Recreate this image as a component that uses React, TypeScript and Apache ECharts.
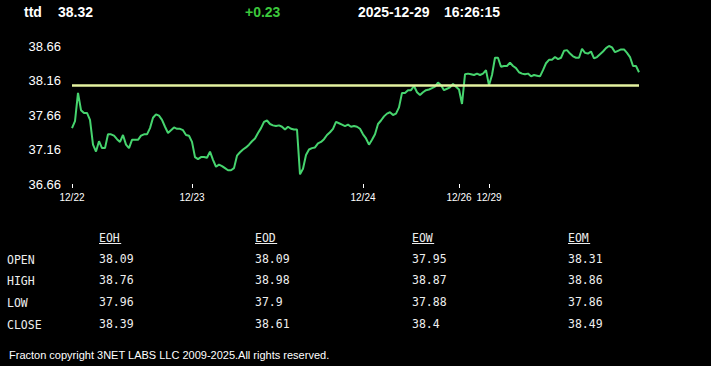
import React, { useEffect, useRef } from "react";
import * as echarts from "echarts";

// ---- data ----
const symbol = "ttd";
const lastPrice = "38.32";
const change = "+0.23";
const dateText = "2025-12-29";
const timeText = "16:26:15";

const prices = [
  37.47, 37.57, 37.98, 37.73, 37.69, 37.69, 37.59, 37.23, 37.13, 37.28,
  37.18, 37.18, 37.38, 37.38, 37.36, 37.31, 37.27, 37.37, 37.23, 37.18,
  37.30, 37.30, 37.30, 37.36, 37.38, 37.38, 37.47, 37.62, 37.67, 37.65,
  37.59, 37.49, 37.40, 37.44, 37.48, 37.46, 37.46, 37.44, 37.37, 37.36,
  37.27, 37.05, 37.02, 37.05, 37.05, 37.04, 37.13, 37.01, 36.91, 36.94,
  36.92, 36.89, 36.86, 36.86, 36.89, 37.07, 37.12, 37.16, 37.19, 37.23,
  37.28, 37.32, 37.40, 37.47, 37.56, 37.58, 37.53, 37.51, 37.50, 37.51,
  37.49, 37.45, 37.49, 37.46, 37.45, 37.45, 36.80, 36.88, 37.08, 37.16,
  37.18, 37.19, 37.25, 37.27, 37.31, 37.37, 37.41, 37.46, 37.56, 37.54,
  37.52, 37.50, 37.52, 37.49, 37.50, 37.49, 37.46, 37.38, 37.32, 37.23,
  37.30, 37.38, 37.53, 37.58, 37.64, 37.68, 37.70, 37.66, 37.68, 37.77,
  37.98, 37.98, 38.02, 38.02, 38.08, 37.99, 37.95, 37.99, 38.02, 38.03,
  38.05, 38.07, 38.13, 38.09, 38.02, 38.04, 38.06, 38.11, 38.07, 38.03,
  37.82, 38.25, 38.26, 38.25, 38.24, 38.26, 38.24, 38.26, 38.31, 38.09,
  38.24, 38.49, 38.49, 38.36, 38.37, 38.37, 38.42, 38.37, 38.34, 38.28,
  38.26, 38.25, 38.26, 38.22, 38.24, 38.23, 38.22, 38.31, 38.41, 38.46,
  38.46, 38.50, 38.47, 38.49, 38.59, 38.60, 38.55, 38.51, 38.49, 38.49,
  38.62, 38.56, 38.55, 38.58, 38.48, 38.50, 38.54, 38.58, 38.63, 38.66,
  38.64, 38.57, 38.59, 38.61, 38.61, 38.56, 38.50, 38.37, 38.37, 38.28,
];

const refLevel = 38.09;

const tickLabels = ["12/22", "12/23", "12/24", "12/26", "12/29"];
const tickIndex = [0, 40, 97, 129, 139];

const yMin = 36.66;
const yMax = 38.66;
const yStep = 0.5;

const rowLabels = ["OPEN", "HIGH", "LOW", "CLOSE"];
const colHeaders = ["EOH", "EOD", "EOW", "EOM"];
const eohValues = ["38.09", "38.76", "37.96", "38.39"];
const eodValues = ["38.09", "38.98", "37.9", "38.61"];
const eowValues = ["37.95", "38.87", "37.88", "38.4"];
const eomValues = ["38.31", "38.86", "37.86", "38.49"];

const footer = "Fracton copyright 3NET LABS LLC 2009-2025.All rights reserved.";

export default function App() {
  const ref = useRef<HTMLDivElement>(null);

  useEffect(() => {
    document.body.style.margin = "0";
    document.body.style.background = "#000";
    if (!ref.current) return;
    const chart = echarts.init(ref.current, undefined, { renderer: "svg" });

    const categories = prices.map((_, i) => String(i));
    const seriesData = prices.map((v) => +(v - yMin).toFixed(4));
    const isTick = (i: number) => tickIndex.indexOf(i) >= 0;

    const mono = "'DejaVu Sans Mono', 'Liberation Mono', monospace";
    const sans = "'Liberation Sans', Arial, sans-serif";
    const colX = [99, 255, 412, 568];
    const rowY = [260, 281, 303, 325];
    const columns = [eohValues, eodValues, eowValues, eomValues];

    const graphics: any[] = [];
    const headerItems = [
      { t: symbol, x: 24, c: "#ffffff" },
      { t: lastPrice, x: 58, c: "#ffffff" },
      { t: change, x: 245, c: "#3cc83c" },
      { t: dateText, x: 358, c: "#ffffff" },
      { t: timeText, x: 444, c: "#ffffff" },
    ];
    headerItems.forEach((h) =>
      graphics.push({
        type: "text",
        x: h.x,
        y: 12,
        scaleY: 1.1,
        style: {
          text: h.t,
          fill: h.c,
          font: `bold 14px ${sans}`,
          textVerticalAlign: "middle",
        },
      })
    );
    colHeaders.forEach((h, ci) => {
      graphics.push({
        type: "text",
        x: colX[ci],
        y: 238,
        style: { text: h, fill: "#eeeeee", font: `11.5px ${mono}`, textVerticalAlign: "middle" },
      });
      graphics.push({
        type: "line",
        shape: { x1: colX[ci], y1: 243.5, x2: colX[ci] + h.length * 7.4, y2: 243.5 },
        style: { stroke: "#eeeeee", lineWidth: 1 },
      });
    });
    rowLabels.forEach((r, ri) => {
      graphics.push({
        type: "text",
        x: 7,
        y: rowY[ri],
        style: { text: r, fill: "#eeeeee", font: `11.5px ${mono}`, textVerticalAlign: "middle" },
      });
      columns.forEach((col, ci) =>
        graphics.push({
          type: "text",
          x: colX[ci],
          y: rowY[ri] - 1,
          style: { text: col[ri], fill: "#eeeeee", font: `11.5px ${mono}`, textVerticalAlign: "middle" },
        })
      );
    });
    graphics.push({
      type: "text",
      x: 9,
      y: 355,
      style: { text: footer, fill: "#ffffff", font: `11px ${sans}`, textVerticalAlign: "middle" },
    });

    chart.setOption({
      animation: false,
      backgroundColor: "#000000",
      grid: { left: 72, right: 72, top: 46, height: 138 },
      xAxis: {
        type: "category",
        data: categories,
        boundaryGap: false,
        axisLine: { show: false },
        axisTick: {
          show: true,
          length: 4,
          interval: (i: number) => isTick(i),
          lineStyle: { color: "#ffffff", width: 1 },
        },
        axisLabel: {
          interval: (i: number) => isTick(i),
          formatter: (_v: string, i: number) => {
            const k = tickIndex.indexOf(i);
            return k >= 0 ? tickLabels[k] : "";
          },
          color: "#ffffff",
          fontSize: 10,
          fontFamily: sans,
          margin: 8,
        },
        splitLine: { show: false },
      },
      yAxis: {
        type: "value",
        min: 0,
        max: +(yMax - yMin).toFixed(4),
        interval: yStep,
        axisLine: { show: false },
        axisTick: { show: false },
        splitLine: { show: false },
        axisLabel: {
          formatter: (v: number) => (v + yMin).toFixed(2),
          color: "#ffffff",
          fontSize: 13,
          fontFamily: sans,
          margin: 11,
        },
      },
      series: [
        {
          type: "line",
          data: seriesData,
          showSymbol: false,
          lineStyle: { color: "#46d46e", width: 2 },
          markLine: {
            silent: true,
            symbol: "none",
            label: { show: false },
            lineStyle: { color: "#e4f2a0", width: 2.5, type: "solid" },
            data: [{ yAxis: +(refLevel - yMin).toFixed(4) }],
          },
        },
      ],
      graphic: graphics,
    });

    return () => chart.dispose();
  }, []);

  return (
    <div
      ref={ref}
      style={{ position: "fixed", left: 0, top: 0, width: 711, height: 366, background: "#000" }}
    />
  );
}
